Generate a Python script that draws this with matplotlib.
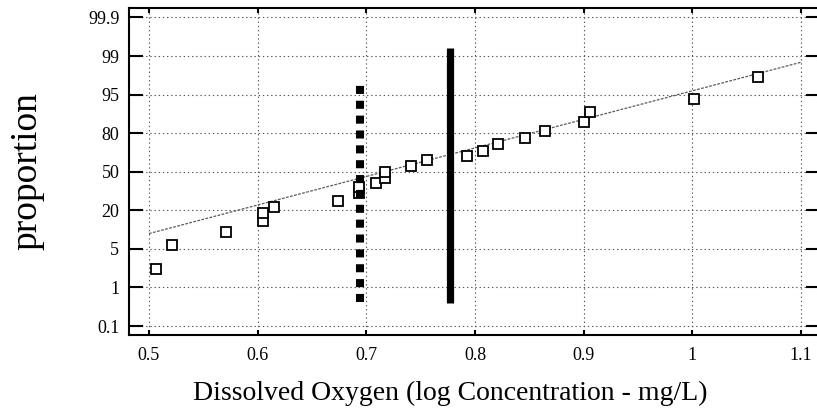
import matplotlib
matplotlib.use('Agg')
import matplotlib.pyplot as plt
import numpy as np

plt.rcParams['font.family'] = ['Liberation Serif', 'DejaVu Serif']
plt.rcParams['lines.scale_dashes'] = False

# probability axis: labels evenly spaced on the chart
prob_ticks = [0.1, 1, 5, 20, 50, 80, 95, 99, 99.9]
x_ticks = [0.5, 0.6, 0.7, 0.8, 0.9, 1.0, 1.1]
x_ticklabels = ['0.5', '0.6', '0.7', '0.8', '0.9', '1', '1.1']

# observed values (log mg/L) and plotting position (%)
do_x = [0.506, 0.521, 0.571, 0.605, 0.605, 0.615, 0.674, 0.693, 0.693, 0.709, 0.717, 0.717,
        0.741, 0.756, 0.793, 0.807, 0.821, 0.846, 0.864, 0.900, 0.906, 1.002, 1.060]
do_p = [2.2, 5.8, 9.5, 14.1, 18.1, 22.1, 25.9, 31.5, 36.8, 40.4, 44.8, 50.0,
        55.5, 60.3, 63.8, 68.2, 73.1, 77.2, 81.4, 86.1, 90.5, 94.1, 97.6]

# fitted line ends
fit_x = [0.5, 1.1]
fit_p = [8.9, 98.7]

# criterion bars
dash_x = [0.694, 0.694]
dash_p = [0.42, 96.6]
solid_x = [0.777, 0.777]
solid_p = [0.40, 99.38]


def logit(p):
    p = np.clip(np.asarray(p, dtype=float), 1e-6, 100 - 1e-6)
    return np.log(p / (100 - p))


tk = logit(prob_ticks)
anchor_l = np.concatenate([[tk[0] - (tk[1] - tk[0])], tk, [tk[-1] + (tk[-1] - tk[-2])]])
anchor_pos = np.arange(-1, len(prob_ticks) + 1, dtype=float)


def fwd(p):
    return np.interp(logit(p), anchor_l, anchor_pos)


def inv(y):
    l = np.interp(np.asarray(y, dtype=float), anchor_pos, anchor_l)
    return 100 / (1 + np.exp(-l))


fig = plt.figure(figsize=(8.17, 4.17), dpi=100)
ax = fig.add_axes([129 / 817, 82 / 417, 691 / 817, 327 / 417])
ax.set_yscale('function', functions=(fwd, inv))

ax.plot(fit_x, fit_p, color='0.35', lw=0.9, ls=(0, (2, 1)), zorder=2)
ax.plot(do_x, do_p, 's', ms=7.2, mfc='white', mec='black', mew=1.3, zorder=3)
ax.plot(dash_x, dash_p, color='black', lw=5.8, ls=(0, (5.8, 4.9)), solid_capstyle='butt',
        dash_capstyle='butt', zorder=4)
ax.plot(solid_x, solid_p, color='black', lw=5.2, solid_capstyle='butt', zorder=4)

ax.set_xlim(0.4816, 1.1175)
ax.set_ylim(inv(-0.233), inv(8.246))
ax.set_xticks(x_ticks)
ax.set_xticklabels(x_ticklabels)
ax.set_yticks(prob_ticks)
ax.set_yticklabels([str(t) for t in prob_ticks])
ax.minorticks_off()

ax.grid(True, color='0.35', ls=(0, (1, 2)), lw=0.8)
ax.tick_params(axis='y', direction='in', length=10, width=1.5, left=True, right=True,
               labelsize=13, pad=7)
ax.tick_params(axis='x', direction='in', length=3.5, width=1.5, top=True, bottom=True,
               labelsize=13, pad=9)
for s in ax.spines.values():
    s.set_linewidth(1.5)

ax.set_xlabel('Dissolved Oxygen (log Concentration - mg/L)', fontsize=20)
ax.xaxis.set_label_coords(0.4645, -0.14)
ax.set_ylabel('proportion', fontsize=27)
ax.yaxis.set_label_coords(-0.122, 0.5)

fig.savefig('out.png', dpi=100)
